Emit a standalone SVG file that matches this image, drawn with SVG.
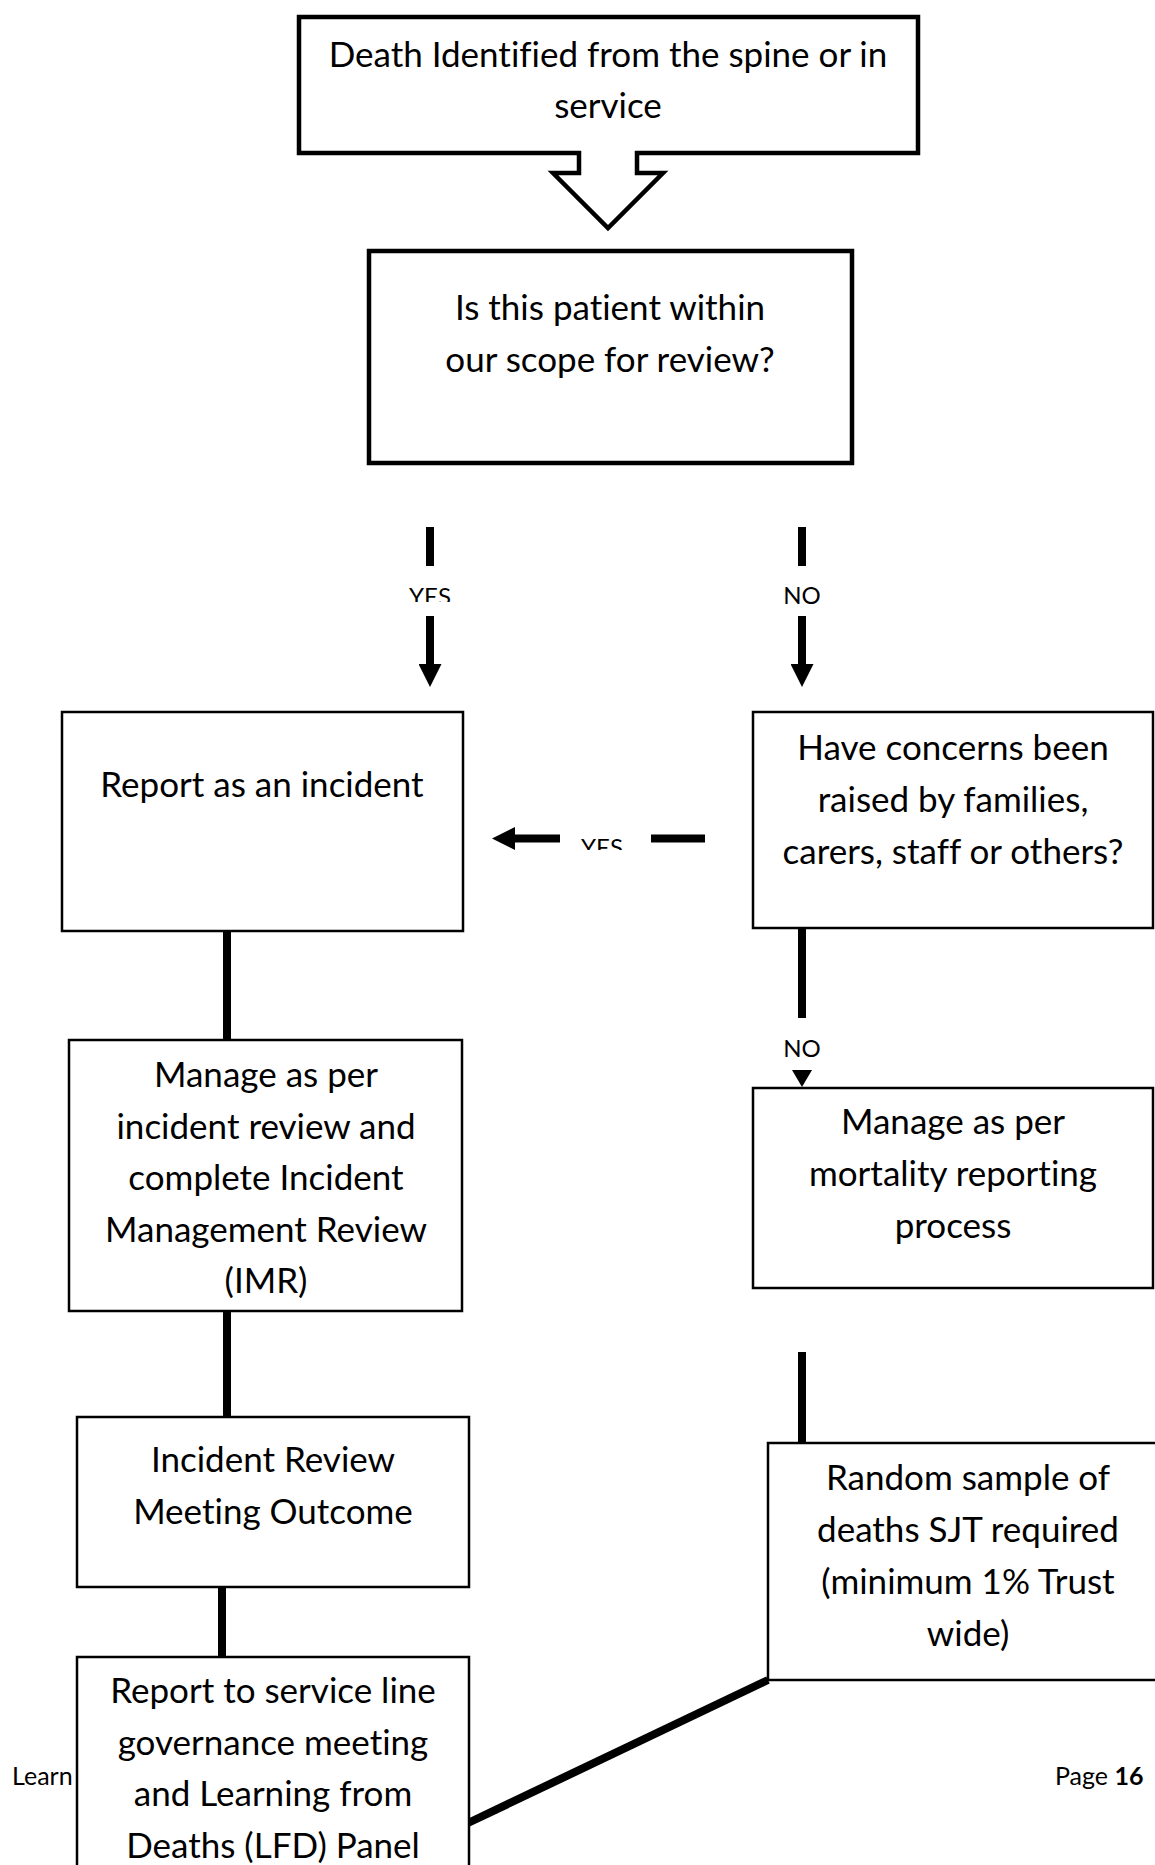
<svg xmlns="http://www.w3.org/2000/svg" width="1155" height="1865" viewBox="0 0 1155 1865">
<style>
.box{fill:#fff;stroke:#000;stroke-width:2.5}
.thick{stroke-width:4.5;stroke-linejoin:miter}
.t{font-family:Lato,"Open Sans","Liberation Sans",sans-serif;font-size:35px;text-anchor:middle;fill:#000;font-variant-ligatures:none}
.lbl{font-family:Lato,"Open Sans","Liberation Sans",sans-serif;font-size:24px;text-anchor:middle;fill:#000}
.foot{font-family:Lato,"Open Sans","Liberation Sans",sans-serif;font-size:25px;fill:#000}
.conn{stroke:#000;stroke-width:8;fill:none}
</style>
<defs>
<marker id="ah" viewBox="0 0 23 23" refX="0" refY="11.5" markerWidth="23" markerHeight="23" markerUnits="userSpaceOnUse" orient="auto">
<path d="M0,0 L23,11.5 L0,23 Z" fill="#000"/>
</marker>
<clipPath id="clipYes1"><rect x="380" y="570" width="100" height="32"/></clipPath>
<clipPath id="clipYes2"><rect x="560" y="820" width="90" height="30"/></clipPath>
</defs>
<rect width="1155" height="1865" fill="#fff"/>

<g id="footer">
<text class="foot" x="12" y="1785">Learn</text>
<text class="foot" x="1055" y="1785">Page <tspan font-weight="bold">16</tspan></text>
</g>

<g id="connectors">
<line class="conn" x1="430" y1="527" x2="430" y2="566"/>
<line class="conn" x1="430" y1="616" x2="430" y2="664" marker-end="url(#ah)"/>
<text class="lbl" x="430" y="605" clip-path="url(#clipYes1)">YES</text>
<line class="conn" x1="802" y1="527" x2="802" y2="566"/>
<line class="conn" x1="802" y1="616" x2="802" y2="664" marker-end="url(#ah)"/>
<text class="lbl" x="802" y="604">NO</text>
<line class="conn" x1="705" y1="838.5" x2="651" y2="838.5"/>
<line class="conn" x1="560" y1="838.5" x2="515" y2="838.5" marker-end="url(#ah)"/>
<text class="lbl" x="602" y="856" clip-path="url(#clipYes2)">YES</text>
<line class="conn" x1="227" y1="931" x2="227" y2="1040"/>
<line class="conn" x1="227" y1="1311" x2="227" y2="1417"/>
<line class="conn" x1="222" y1="1587" x2="222" y2="1657"/>
<line class="conn" x1="802" y1="928" x2="802" y2="1018"/>
<text class="lbl" x="802" y="1057">NO</text>
<path d="M792,1070 L812,1070 L802,1087 Z" fill="#000"/>
<line class="conn" x1="802" y1="1352" x2="802" y2="1443"/>
<line class="conn" x1="768" y1="1680" x2="468" y2="1823"/>
</g>

<g id="n1">
<path class="box thick" d="M299,17 H918 V153 H637 V173 H663 L608,228 L553,173 H579 V153 H299 Z"/>
<text class="t" x="608" y="67">Death Identified from the spine or in</text>
<text class="t" x="608" y="118">service</text>
</g>

<g id="n2">
<rect class="box thick" x="369" y="251" width="483" height="212"/>
<text class="t" x="610" y="320">Is this patient within</text>
<text class="t" x="610" y="372">our scope for review?</text>
</g>

<g id="n3">
<rect class="box" x="62" y="712" width="401" height="219"/>
<text class="t" x="262" y="797">Report as an incident</text>
</g>

<g id="n4">
<rect class="box" x="753" y="712" width="400" height="216"/>
<text class="t" x="953" y="760">Have concerns been</text>
<text class="t" x="953" y="812">raised by families,</text>
<text class="t" x="953" y="864">carers, staff or others?</text>
</g>

<g id="n5">
<rect class="box" x="69" y="1040" width="393" height="271"/>
<text class="t" x="266" y="1087">Manage as per</text>
<text class="t" x="266" y="1139">incident review and</text>
<text class="t" x="266" y="1190">complete Incident</text>
<text class="t" x="266" y="1242">Management Review</text>
<text class="t" x="266" y="1293">(IMR)</text>
</g>

<g id="n6">
<rect class="box" x="753" y="1088" width="400" height="200"/>
<text class="t" x="953" y="1134">Manage as per</text>
<text class="t" x="953" y="1186">mortality reporting</text>
<text class="t" x="953" y="1238">process</text>
</g>

<g id="n7">
<rect class="box" x="77" y="1417" width="392" height="170"/>
<text class="t" x="273" y="1472">Incident Review</text>
<text class="t" x="273" y="1524">Meeting Outcome</text>
</g>

<g id="n8">
<rect class="box" x="768" y="1443" width="410" height="237"/>
<text class="t" x="968" y="1490">Random sample of</text>
<text class="t" x="968" y="1542">deaths SJT required</text>
<text class="t" x="968" y="1594">(minimum 1% Trust</text>
<text class="t" x="968" y="1646">wide)</text>
</g>

<g id="n9">
<rect class="box" x="77" y="1657" width="392" height="230"/>
<text class="t" x="273" y="1703">Report to service line</text>
<text class="t" x="273" y="1755">governance meeting</text>
<text class="t" x="273" y="1806">and Learning from</text>
<text class="t" x="273" y="1858">Deaths (LFD) Panel</text>
</g>
</svg>
